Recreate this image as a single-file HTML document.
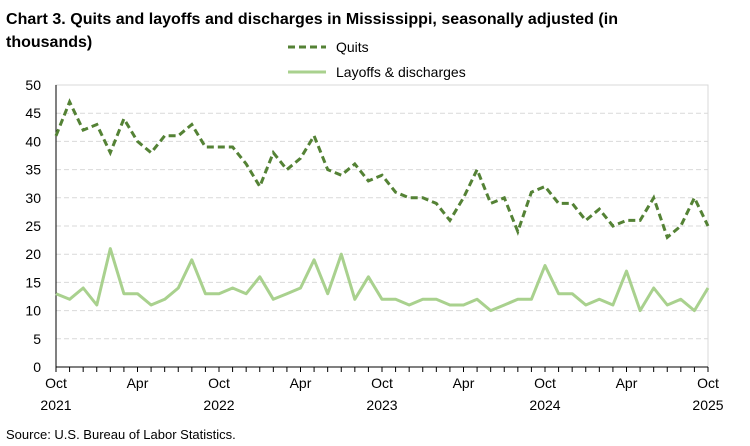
<!DOCTYPE html>
<html><head><meta charset="utf-8"><style>
body{margin:0;background:#fff;}
svg{display:block;font-family:"Liberation Sans",Arial,sans-serif;}
</style></head><body>
<svg id="c" width="750" height="446" xmlns="http://www.w3.org/2000/svg">
<text x="6" y="24" font-size="16" font-weight="bold" fill="#000" textLength="612">Chart 3. Quits and layoffs and discharges in Mississippi, seasonally adjusted (in</text>
<text x="6" y="47" font-size="16" font-weight="bold" fill="#000">thousands)</text>
<line x1="288" y1="47" x2="326" y2="47" stroke="#548235" stroke-width="3" stroke-dasharray="7,4"/>
<text x="336" y="52" font-size="14">Quits</text>
<line x1="288" y1="72" x2="326" y2="72" stroke="#a9d18e" stroke-width="3"/>
<text x="336" y="77" font-size="14">Layoffs &amp; discharges</text>
<g id="g"></g>
<text x="6" y="439" font-size="13">Source: U.S. Bureau of Labor Statistics.</text>
</svg>
<script>
var g=document.getElementById('g'),s='';
var x0=56,x1=708,y0=367,y50=85;
function X(i){return x0+(x1-x0)*i/48}
function Y(v){return y0+(y50-y0)*v/50}
s+='<rect x="'+x0+'" y="'+y50+'" width="'+(x1-x0)+'" height="'+(y0-y50)+'" fill="none" stroke="#d9d9d9"/>';
for(var v=0;v<=50;v+=5){var y=Y(v);
 if(v>0&&v<50)s+='<line x1="'+x0+'" x2="'+x1+'" y1="'+y+'" y2="'+y+'" stroke="#d9d9d9" stroke-dasharray="5,3"/>';
 s+='<text x="41" y="'+(y+5)+'" font-size="14" text-anchor="end">'+v+'</text>';}
s+='<line x1="'+x0+'" x2="'+x0+'" y1="'+y50+'" y2="'+y0+'" stroke="#000"/>';
s+='<line x1="'+x0+'" x2="'+x1+'" y1="'+y0+'" y2="'+y0+'" stroke="#000"/>';
for(var i=0;i<=48;i++){s+='<line x1="'+X(i)+'" x2="'+X(i)+'" y1="'+y0+'" y2="'+(y0+5)+'" stroke="#000"/>';}
for(var i=0;i<=48;i+=6){s+='<text x="'+X(i)+'" y="388" font-size="14" text-anchor="middle">'+(i%12==0?'Oct':'Apr')+'</text>';
 if(i%12==0)s+='<text x="'+X(i)+'" y="410" font-size="14" text-anchor="middle">'+(2021+i/12)+'</text>';}
var q=[41,47,42,43,38,44,40,38,41,41,43,39,39,39,36,32,38,35,37,41,35,34,36,33,34,31,30,30,29,26,30,35,29,30,24,31,32,29,29,26,28,25,26,26,30,23,25,30,25];
var l=[13,12,14,11,21,13,13,11,12,14,19,13,13,14,13,16,12,13,14,19,13,20,12,16,12,12,11,12,12,11,11,12,10,11,12,12,18,13,13,11,12,11,17,10,14,11,12,10,14];
function pts(a){return a.map(function(v,i){return X(i).toFixed(1)+','+Y(v).toFixed(1)}).join(' ')}
s+='<polyline points="'+pts(l)+'" fill="none" stroke="#a9d18e" stroke-width="3" stroke-linejoin="round"/>';
s+='<polyline points="'+pts(q)+'" fill="none" stroke="#548235" stroke-width="3" stroke-dasharray="7,4"/>';
g.innerHTML=s;
</script>
</body></html>
